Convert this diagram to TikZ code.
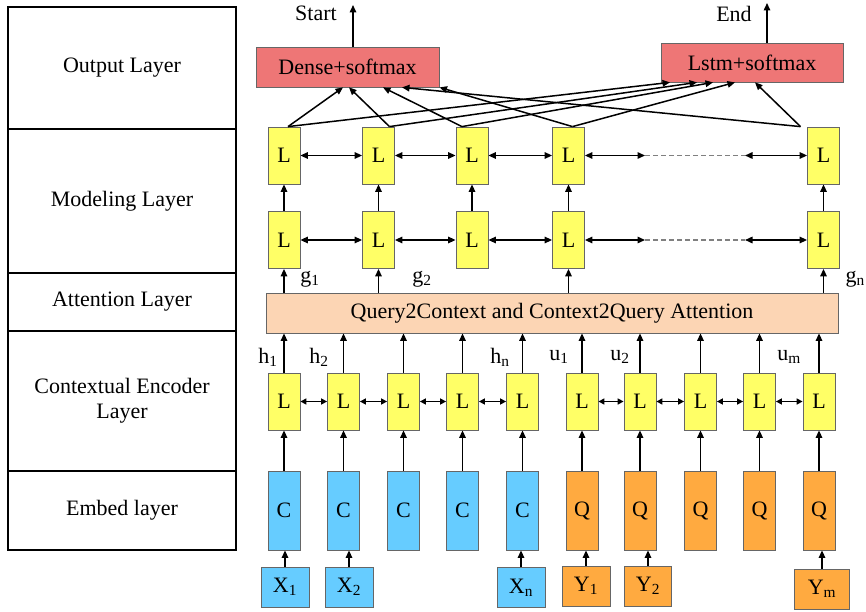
\documentclass[tikz,border=0pt]{standalone}
\usepackage{fontspec}
\setmainfont{Liberation Serif}
\usetikzlibrary{arrows.meta}
\definecolor{lyel}{HTML}{FFFF66}
\definecolor{lblue}{HTML}{66CCFF}
\definecolor{lorange}{HTML}{FFAA40}
\definecolor{lred}{HTML}{EE7676}
\definecolor{lpeach}{HTML}{FCD5B4}
\begin{document}
\begin{tikzpicture}[x=1pt,y=-1pt,
  fnt/.style={font=\fontsize{22}{25}\selectfont},
  layerbox/.style={draw=black, line width=2.2pt, minimum width=228pt, inner sep=0pt, fnt, align=center},
  cell/.style={draw=black!60, line width=0.8pt, inner sep=0pt, fnt},
  lbox/.style={cell, fill=lyel, minimum width=32pt, minimum height=57pt},
  cbox/.style={cell, fill=lblue, minimum width=32pt, minimum height=79pt},
  qbox/.style={cell, fill=lorange, minimum width=32pt, minimum height=79pt},
  xbox/.style={cell, fill=lblue, minimum width=48pt, minimum height=40pt},
  ybox/.style={cell, fill=lorange, minimum width=48pt, minimum height=40pt},
  outbox/.style={cell, fill=lred, minimum height=40pt},
  lab/.style={fnt, inner sep=0pt},
  arr/.style={line width=1.5pt, -{Triangle[length=7.5pt,width=6.5pt]}},
  darr/.style={line width=1.5pt, {Triangle[length=7.5pt,width=6.5pt]}-{Triangle[length=7.5pt,width=6.5pt]}},
  sdarr/.style={line width=1.5pt, {Triangle[length=6pt,width=6pt]}-{Triangle[length=6pt,width=6pt]}},
  dsh/.style={line width=1.3pt, draw=black!50, dash pattern=on 5pt off 3pt}
]
\useasboundingbox (0,0) rectangle (866,612);
% left layer panel
\node[layerbox, minimum height=122pt] (Lout) at (122,68) {Output Layer};
\node[layerbox, minimum height=144pt] (Lmod) at (122,201) {Modeling Layer};
\node[layerbox, minimum height=58pt] (Latt) at (122,302) {Attention Layer};
\node[layerbox, minimum height=140pt] (Lctx) at (122,401) {Contextual Encoder\\Layer};
\node[layerbox, minimum height=79pt] (Lemb) at (122,510.5) {Embed layer};

% output boxes
\node[outbox, minimum width=183pt] (D) at (347.5,67) {Dense+softmax};
\node[outbox, minimum width=182pt, minimum height=39pt] (S) at (752,62.5) {Lstm+softmax};
\coordinate (st) at (353,5);
\coordinate (en) at (767,3);
\draw[arr] (D.north -| st) -- (st);
\draw[arr] (S.north -| en) -- (en);
\node[lab] (tstart) at (316,13) {Start};
\node[lab] (tend) at (734,14) {End};

% modeling layer
\foreach \i/\x in {1/284,2/378.5,3/472,4/568.5,5/823.5}{
  \node[lbox] (M\i a) at (\x,155.5) {L};
  \node[lbox] (M\i b) at (\x,240) {L};
  \draw[arr] (M\i b.north) -- (M\i a.south);
}
\foreach \i/\j in {1/2,2/3,3/4}{
  \draw[darr] (M\i a.east) -- (M\j a.west);
  \draw[darr] (M\i b.east) -- (M\j b.west);
}
\coordinate (pa) at (645,155.5); \coordinate (qa) at (745,155.5);
\coordinate (pb) at (645,240); \coordinate (qb) at (745,240);
\draw[darr] (M4a.east) -- (pa);
\draw[dsh] (pa) -- (qa);
\draw[darr] (qa) -- (M5a.west);
\draw[darr] (M4b.east) -- (pb);
\draw[dsh] (pb) -- (qb);
\draw[darr] (qb) -- (M5b.west);

% modeling -> output
\draw[arr] ([xshift=4pt]M1a.north) -- ([xshift=-4.5pt]D.south);
\draw[arr] ([xshift=11pt]M2a.north) -- ([xshift=1.5pt]D.south);
\draw[arr] ([xshift=-10pt]M3a.north) -- ([xshift=35.5pt]D.south);
\draw[arr] ([xshift=4pt]M4a.north) -- ([xshift=92pt]D.south);
\draw[arr] ([xshift=-23pt]M5a.north) -- ([xshift=54.5pt]D.south);
\draw[arr] ([xshift=4pt]M1a.north) -- ([xshift=-82pt]S.south);
\draw[arr] ([xshift=11pt]M2a.north) -- ([xshift=-55pt]S.south);
\draw[arr] ([xshift=-10pt]M3a.north) -- ([xshift=-39pt]S.south);
\draw[arr] ([xshift=4pt]M4a.north) -- ([xshift=-17pt]S.south);
\draw[arr] ([xshift=-23pt]M5a.north) -- ([xshift=3pt]S.south);

% attention
\node[cell, fill=lpeach, minimum width=572pt, minimum height=40pt] (A) at (552,313) {Query2Context and Context2Query Attention};
\foreach \i in {1,2,4,5}{
  \draw[arr] (A.north -| M\i b) -- (M\i b.south);
}
\node[lab] (g1) at (310,279) {g\textsubscript{1}};
\node[lab] (g2) at (422,279) {g\textsubscript{2}};
\node[lab, anchor=east] (gn) at (865,279) {g\textsubscript{n}};

% contextual encoder + embed
\foreach \i/\x in {1/284,2/343.5,3/403.5,4/462.5,5/522.5}{
  \node[lbox] (C\i) at (\x,401.5) {L};
  \node[cbox] (E\i) at (\x,510.5) {C};
}
\foreach \i/\x in {6/582,7/640,8/700.5,9/759.5,10/819}{
  \node[lbox] (C\i) at (\x,401.5) {L};
  \node[qbox] (E\i) at (\x,510.5) {Q};
}
\foreach \i in {1,...,10}{
  \draw[arr] (C\i.north) -- (C\i.north |- A.south);
  \draw[arr] (E\i.north) -- (C\i.south);
}
\foreach \i/\j in {1/2,2/3,3/4,4/5,6/7,7/8,8/9,9/10}{
  \draw[sdarr] (C\i.east) -- (C\j.west);
}
\node[lab] (h1) at (268,357) {h\textsubscript{1}};
\node[lab] (h2) at (319,357) {h\textsubscript{2}};
\node[lab] (hn) at (500,357) {h\textsubscript{n}};
\node[lab] (u1) at (559,357) {u\textsubscript{1}};
\node[lab] (u2) at (620,357) {u\textsubscript{2}};
\node[lab] (um) at (789,357) {u\textsubscript{m}};

% inputs
\node[xbox] (X1) at (285,587) {X\textsubscript{1}};
\node[xbox] (X2) at (349,587) {X\textsubscript{2}};
\node[xbox] (Xn) at (521,587.5) {X\textsubscript{n}};
\node[ybox] (Y1) at (586,586) {Y\textsubscript{1}};
\node[ybox, minimum width=47pt] (Y2) at (648,586) {Y\textsubscript{2}};
\node[ybox, minimum width=55pt] (Ym) at (822,589) {Y\textsubscript{m}};
\draw[arr] (X1.north) -- (X1.north |- E1.south);
\draw[arr] (X2.north) -- (X2.north |- E2.south);
\draw[arr] (Xn.north) -- (Xn.north |- E5.south);
\draw[arr] (Y1.north) -- (Y1.north |- E6.south);
\draw[arr] (Y2.north) -- (Y2.north |- E7.south);
\draw[arr] (Ym.north) -- (Ym.north |- E10.south);
\end{tikzpicture}
\end{document}
